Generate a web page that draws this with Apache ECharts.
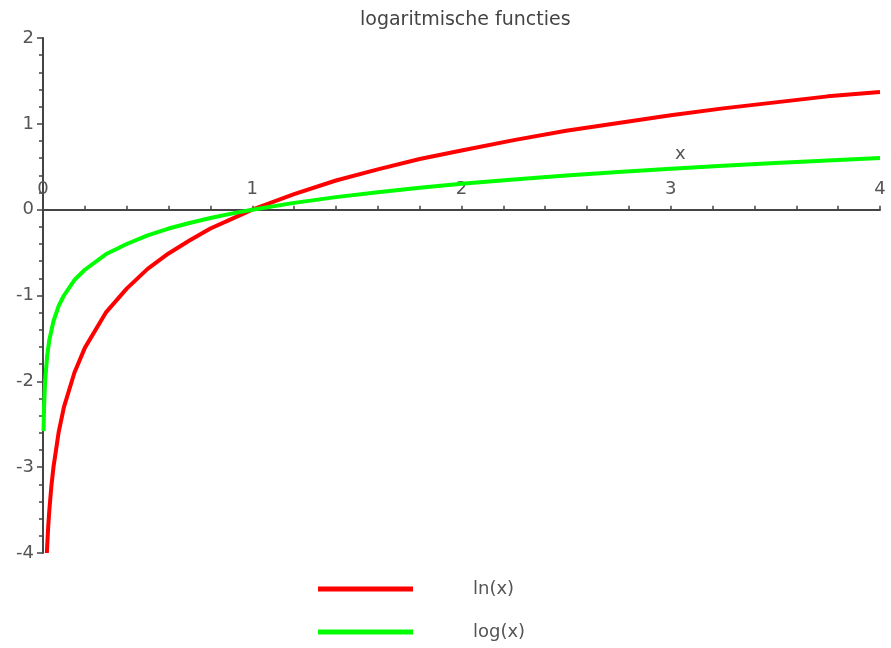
<!DOCTYPE html>
<html>
<head>
<meta charset="utf-8">
<script src="https://cdn.jsdelivr.net/npm/echarts@6/dist/echarts.min.js"></script>
<style>html,body{margin:0;padding:0;background:#fff}#c{width:891px;height:648px}</style>
</head>
<body>
<div id="c"></div>
<script>
var xTicks = [0, 1, 2, 3, 4];
var yTicks = [-4, -3, -2, -1, 0, 1, 2];

var lnX = [0.0183, 0.025, 0.03, 0.04, 0.05, 0.075, 0.1, 0.15, 0.2, 0.3, 0.4, 0.5, 0.6, 0.7, 0.8, 0.9, 1.0, 1.2, 1.4, 1.6, 1.8, 2.0, 2.25, 2.5, 2.75, 3.0, 3.25, 3.5, 3.75, 4.0];
var lnY = [-4.0, -3.69, -3.51, -3.22, -3.0, -2.59, -2.30, -1.90, -1.61, -1.20, -0.92, -0.69, -0.51, -0.36, -0.22, -0.11, 0, 0.18, 0.34, 0.47, 0.59, 0.69, 0.81, 0.92, 1.01, 1.10, 1.18, 1.25, 1.32, 1.37];

var logX = [0.0026, 0.005, 0.01, 0.02, 0.03, 0.05, 0.075, 0.1, 0.15, 0.2, 0.3, 0.4, 0.5, 0.6, 0.7, 0.8, 0.9, 1.0, 1.2, 1.4, 1.6, 1.8, 2.0, 2.25, 2.5, 2.75, 3.0, 3.25, 3.5, 3.75, 4.0];
var logY = [-2.58, -2.30, -2.0, -1.70, -1.52, -1.30, -1.12, -1.0, -0.82, -0.70, -0.52, -0.40, -0.30, -0.22, -0.155, -0.097, -0.046, 0, 0.079, 0.146, 0.204, 0.255, 0.301, 0.352, 0.398, 0.439, 0.477, 0.512, 0.544, 0.574, 0.602];

var seriesNames = ['ln(x)', 'log(x)'];
var seriesColors = ['#ff0000', '#00ff00'];

function pairs(xs, ys) { return xs.map(function (x, i) { return [x, ys[i]]; }); }

var FONT = 'DejaVu Sans';
var GRID_TOP = 38, GRID_BOTTOM = 95, H = 648;
var yMin = yTicks[0], yMax = yTicks[yTicks.length - 1];
var plotH = H - GRID_TOP - GRID_BOTTOM;
var zeroOffset = -plotH * (yMax - 0) / (yMax - yMin);

var chart = echarts.init(document.getElementById('c'));
chart.setOption({
  animation: false,
  title: {
    text: 'logaritmische functies',
    left: 355, top: 6,
    textStyle: { fontFamily: FONT, fontSize: 19, fontWeight: 'normal', color: '#444' }
  },
  grid: { left: 43, right: 11, top: GRID_TOP, bottom: GRID_BOTTOM, containLabel: false },
  xAxis: {
    type: 'value', position: 'top', offset: zeroOffset,
    min: xTicks[0], max: xTicks[xTicks.length - 1], interval: 1,
    axisLine: { show: true, onZero: false, lineStyle: { color: '#444', width: 2 } },
    axisTick: { show: true, inside: false, length: 4, lineStyle: { color: '#444', width: 1.5 } },
    minorTick: { show: true, splitNumber: 5, length: 4, lineStyle: { color: '#444', width: 1.5 } },
    axisLabel: { margin: 11, fontFamily: FONT, fontSize: 18, color: '#555', showMinLabel: true, showMaxLabel: true },
    splitLine: { show: false }
  },
  yAxis: {
    type: 'value', min: yMin, max: yMax, interval: 1,
    axisLine: { show: true, onZero: false, lineStyle: { color: '#444', width: 2 } },
    axisTick: { show: true, inside: false, length: 6, lineStyle: { color: '#444', width: 1.5 } },
    minorTick: { show: true, splitNumber: 5, length: 4, lineStyle: { color: '#444', width: 1.5 } },
    axisLabel: { margin: 9, fontFamily: FONT, fontSize: 18, color: '#555' },
    splitLine: { show: false }
  },
  legend: {
    orient: 'vertical', left: 313, top: 575,
    itemWidth: 95, itemHeight: 5, itemGap: 25,
    icon: 'rect',
    data: seriesNames,
    textStyle: { fontFamily: FONT, fontSize: 18, color: '#555', padding: [0, 0, 0, 55] }
  },
  graphic: [{
    type: 'text', left: 675, top: 145,
    style: { text: 'x', font: '18px "DejaVu Sans"', fill: '#555' }
  }],
  series: [
    { name: seriesNames[0], type: 'line', showSymbol: false, data: pairs(lnX, lnY), color: seriesColors[0], lineStyle: { width: 4, color: seriesColors[0] } },
    { name: seriesNames[1], type: 'line', showSymbol: false, data: pairs(logX, logY), color: seriesColors[1], lineStyle: { width: 4, color: seriesColors[1] } }
  ]
});
</script>
</body>
</html>
